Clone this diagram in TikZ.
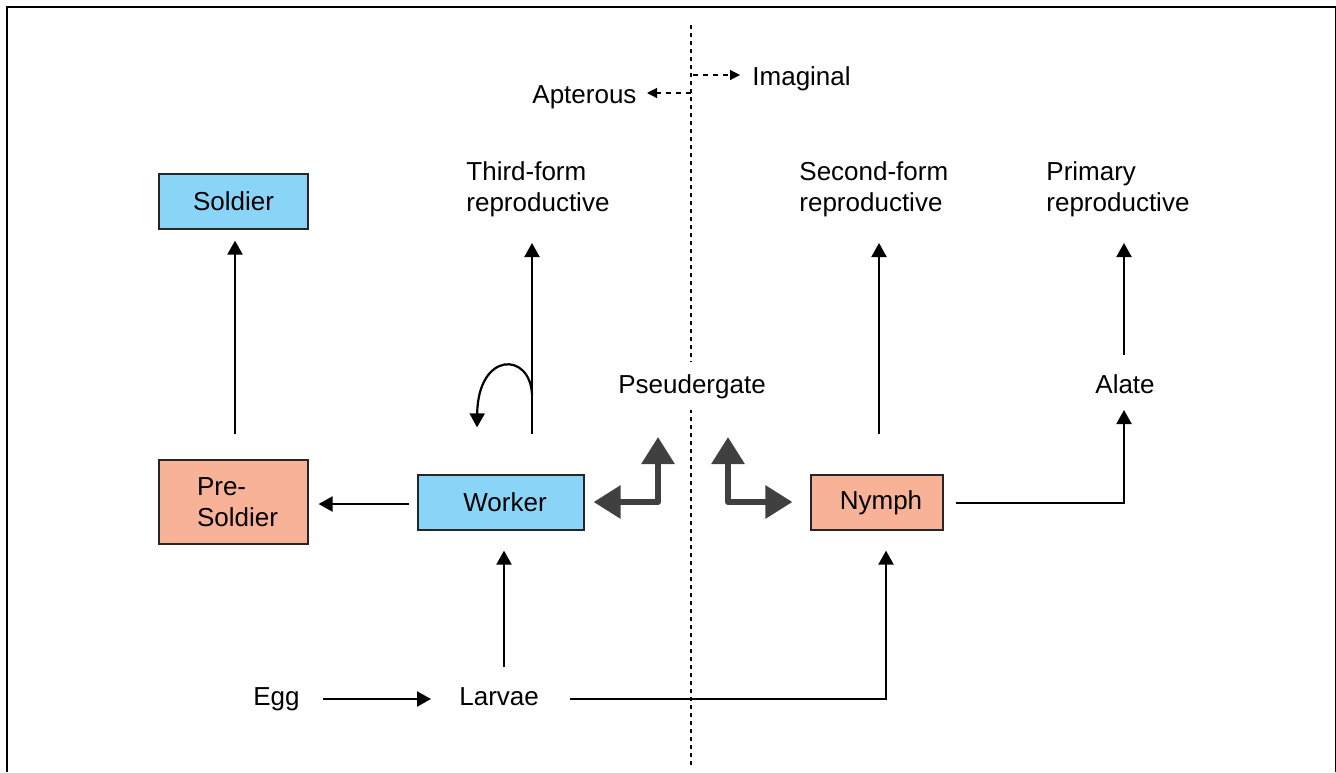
\documentclass[tikz,border=0pt]{standalone}
\usepackage{fontspec}
\setmainfont{Liberation Sans}
\usetikzlibrary{arrows.meta,calc}
\definecolor{sblue}{RGB}{137,212,247}
\definecolor{salmon}{RGB}{248,178,152}
\definecolor{bigc}{RGB}{64,64,64}
\begin{document}
\begin{tikzpicture}[x=0.5pt,y=-0.5pt,
  lbl/.style={inner sep=0pt,font=\fontsize{13pt}{15.5pt}\selectfont},
  box/.style={draw=black!85,line width=0.6pt,inner sep=0pt,minimum height=27.5pt,font=\fontsize{13pt}{15.5pt}\selectfont},
  arr/.style={line width=1.1pt,-{Triangle[length=7pt,width=7.5pt]}},
  big/.style={line width=3pt,bigc,line join=round,{Triangle[length=13.5pt,width=16pt]}-{Triangle[length=13.5pt,width=16pt]}},
  darr/.style={line width=0.6pt,dash pattern=on 2.5pt off 2.5pt,-{Triangle[length=5pt,width=5pt]}},
  vdash/.style={line width=0.7pt,dash pattern=on 2pt off 2pt},
  frame/.style={line width=0.6pt}]
\useasboundingbox (0,0) rectangle (1336,772);
\draw[frame] (7,772) -- (7,7) -- (1335.3,7) -- (1335.3,772);
% dashed divider
\coordinate (dtop) at (691,25);
\coordinate (dbot) at (691,765);
\draw[vdash] (dtop) -- (dbot);
% boxes
\node[box,fill=sblue,minimum width=74.5pt] (soldier) at (233.5,201.5) {Soldier};
\node[box,fill=salmon,minimum width=74.5pt,minimum height=42pt,align=left] (presoldier) at (233.5,502) {\hspace*{4pt}Pre-\\\hspace*{4pt}Soldier};
\node[box,fill=sblue,minimum width=83pt] (worker) at (501,502.5) {\hspace*{4pt}Worker};
\node[box,fill=salmon,minimum width=66pt] (nymph) at (877,502.5) {\hspace*{4pt}Nymph};
% labels
\node[lbl,anchor=base west] (egg) at (253,705) {Egg};
\node[lbl,anchor=base west] (larvae) at (459,705) {Larvae};
\node[lbl,anchor=base west] (alate) at (1095,393) {Alate};
\node[lbl,anchor=base,fill=white,inner xsep=1pt,inner ysep=6pt] (pseud) at (692,393) {Pseudergate};
\node[lbl,anchor=base west] (apt) at (532,103) {Apterous};
\node[lbl,anchor=base west] (imag) at (752,85) {Imaginal};
\node[lbl,align=left,anchor=north west] (third) at (466,161) {Third-form\\reproductive};
\node[lbl,align=left,anchor=north west] (second) at (799,161) {Second-form\\reproductive};
\node[lbl,align=left,anchor=north west] (primary) at (1046,161) {Primary\\reproductive};
% dashed arrows
\draw[darr] ($(imag.base west)+(-59,-10)$) -- ($(imag.base west)+(-12,-10)$);
\draw[darr] ($(apt.base west)+(159,-10)$) -- ($(apt.base west)+(115,-10)$);
% arrows
\draw[arr] ($(egg.base west)+(70,-6)$) -- ($(larvae.base west)+(-28,-6)$);
\draw[arr] ($(larvae.base west)+(45,-38)$) -- ($(worker.south)+(3,20)$);
\draw[arr] ($(larvae.base west)+(111,-6)$) -| ($(nymph.south)+(9,20)$);
\draw[arr] ($(worker.west)+(-8,1.5)$) -- ($(presoldier.east)+(10,2)$);
\draw[arr] ($(presoldier.north)+(1.5,-25)$) -- ($(soldier.south)+(1.5,11)$);
\draw[arr] ($(worker.north)+(31,-40)$) -- ($(third.north west)+(66,82)$);
\coordinate (ls) at ($(worker.north)+(31,-80)$);
\draw[arr] (ls) .. controls ($(ls)+(-2,-43)$) and ($(ls)+(-54,-43)$) .. ($(ls)+(-55,33)$);
\draw[arr] ($(nymph.north)+(2,-40)$) -- ($(second.north west)+(80,82)$);
\draw[arr] ($(alate.base west)+(29,-38)$) -- ($(primary.north west)+(78,82)$);
\draw[arr] ($(nymph.east)+(12,0.5)$) -| ($(alate.base west)+(29,17)$);
% thick double arrows
\draw[big] ($(worker.east)+(9,-0.5)$) -| ($(pseud.base)+(-34,44)$);
\draw[big] ($(pseud.base)+(36,44)$) |- ($(nymph.west)+(-18,-0.5)$);
\end{tikzpicture}
\end{document}
